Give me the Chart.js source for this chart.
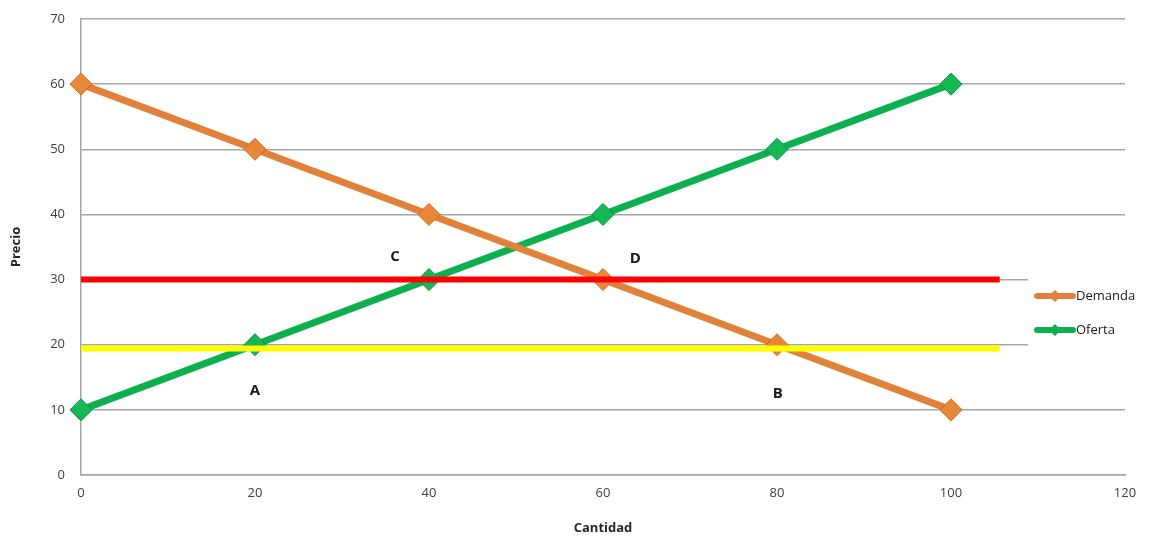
<!DOCTYPE html>
<html><head><meta charset="utf-8">
<script src="https://cdn.jsdelivr.net/npm/chart.js@4/dist/chart.umd.min.js"></script>
<style>html,body{margin:0;padding:0;background:#fff}#wrap{width:1156px;height:537px}</style>
</head><body><div id="wrap"><canvas id="c" width="1156" height="537"></canvas></div>
<script>
const cantidad = [0, 20, 40, 60, 80, 100];
const demanda = [60, 50, 40, 30, 20, 10];
const oferta = [10, 20, 30, 40, 50, 60];
const precioAlto = 30;     // red line
const precioBajo = 19.4;   // yellow line
const lineaFinX = 105.6;
const etiquetas = ['A', 'B', 'C', 'D'];
const etiquetasX = [20, 80.1, 36.1, 63.7];
const etiquetasY = [13, 12.5, 33.5, 33.2];

const FONT = "'Open Sans', 'Liberation Sans', sans-serif";
const pts = (xs, ys) => xs.map((x, i) => ({x, y: ys[i]}));

const overlay = {
  id: 'overlay',
  afterDatasetsDraw(chart) {
    const {ctx, scales: {x, y}} = chart;
    ctx.save();
    ctx.fillStyle = '#fff';
    ctx.fillRect(1028, 272, 128, 80);
    const items = [['Demanda', '#E2813A', 296], ['Oferta', '#0DB04F', 330]];
    items.forEach(([t, c, yy]) => {
      ctx.strokeStyle = c; ctx.lineWidth = 6; ctx.lineCap = 'round';
      ctx.beginPath(); ctx.moveTo(1037, yy); ctx.lineTo(1073, yy); ctx.stroke();
      ctx.fillStyle = c;
      ctx.beginPath(); ctx.moveTo(1055, yy - 6); ctx.lineTo(1061, yy); ctx.lineTo(1055, yy + 6); ctx.lineTo(1049, yy); ctx.closePath(); ctx.fill();
      ctx.fillStyle = '#1a1a1a'; ctx.font = "13px " + FONT; ctx.textAlign = 'left'; ctx.textBaseline = 'middle';
      ctx.fillText(t, 1076, yy);
    });
    ctx.lineCap = 'butt';
    ctx.lineWidth = 6;
    ctx.strokeStyle = '#FF0000';
    ctx.beginPath(); ctx.moveTo(x.getPixelForValue(0), y.getPixelForValue(precioAlto)); ctx.lineTo(x.getPixelForValue(lineaFinX), y.getPixelForValue(precioAlto)); ctx.stroke();
    ctx.strokeStyle = '#FFFF00';
    ctx.beginPath(); ctx.moveTo(x.getPixelForValue(0), y.getPixelForValue(precioBajo)); ctx.lineTo(x.getPixelForValue(lineaFinX), y.getPixelForValue(precioBajo)); ctx.stroke();
    ctx.fillStyle = '#1a1a1a'; ctx.font = "bold 15px " + FONT; ctx.textAlign = 'center'; ctx.textBaseline = 'middle';
    etiquetas.forEach((t, i) => ctx.fillText(t, x.getPixelForValue(etiquetasX[i]), y.getPixelForValue(etiquetasY[i])));
    ctx.restore();
  }
};

new Chart(document.getElementById('c'), {
  type: 'line',
  data: {
    datasets: [
      {label: 'Demanda', data: pts(cantidad, demanda), borderColor: '#E2813A', backgroundColor: '#E8873A', pointBorderColor: '#C96A22',
       borderWidth: 7, pointBorderWidth: 1, pointStyle: 'rectRot', pointRadius: 11, pointHoverRadius: 11, tension: 0, clip: false},
      {label: 'Oferta', data: pts(cantidad, oferta), borderColor: '#0DB04F', backgroundColor: '#14B955', pointBorderColor: '#0A9040',
       borderWidth: 7, pointBorderWidth: 1, pointStyle: 'rectRot', pointRadius: 11, pointHoverRadius: 11, tension: 0, clip: false}
    ]
  },
  options: {
    responsive: false, animation: false,
    layout: {padding: {top: 19, right: 31, left: 0, bottom: 0}},
    plugins: {legend: {display: false}, tooltip: {enabled: false}},
    scales: {
      x: {type: 'linear', min: 0, max: 120,
          ticks: {stepSize: 20, color: '#404040', font: {family: FONT, size: 13}, padding: 10},
          grid: {display: false, drawTicks: false},
          border: {display: true, color: '#A6A6A6', width: 1.5},
          title: {display: true, text: 'Cantidad', color: '#262626', font: {family: FONT, size: 13, weight: 'bold'}, padding: {top: 11, bottom: 1}},
          afterFit(s) { s.height = 62; s.paddingLeft = 0; s.paddingRight = 0; }},
      y: {min: 0, max: 70,
          ticks: {stepSize: 10, color: '#404040', font: {family: FONT, size: 13}, padding: 16},
          grid: {color: '#A6A6A6', lineWidth: 1.5, drawTicks: false},
          border: {display: true, color: '#A6A6A6', width: 1.5},
          title: {display: true, text: 'Precio', color: '#262626', font: {family: FONT, size: 13, weight: 'bold'}, padding: {top: 8, bottom: 4}},
          afterFit(s) { s.width = 81; s.paddingTop = 0; s.paddingBottom = 0; }}
    }
  },
  plugins: [overlay]
});
</script></body></html>
